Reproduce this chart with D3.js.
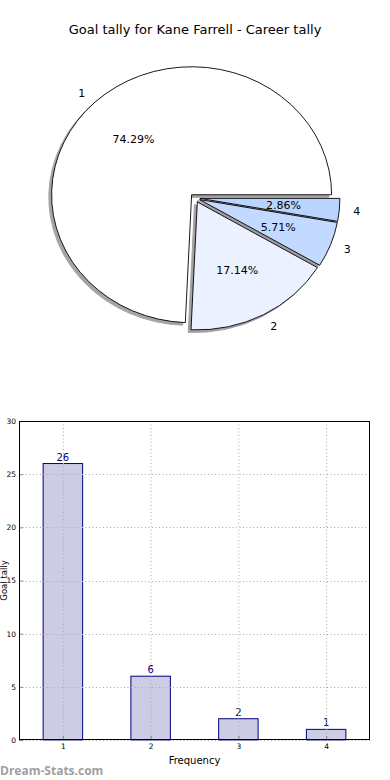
<!DOCTYPE html>
<html><head><meta charset="utf-8">
<script src="https://cdn.jsdelivr.net/npm/d3@7"></script>
<style>body{margin:0;background:#fff;}svg{display:block;font-family:"DejaVu Sans",sans-serif;}</style>
</head><body>
<svg id="c" width="390" height="780"></svg>
<script>
const title = "Goal tally for Kane Farrell - Career tally";
const categories = ["1","2","3","4"];
const values = [26, 6, 2, 1];
const pctLabels = ["74.29%","17.14%","5.71%","2.86%"];
const sliceColors = ["#ffffff","#ebf1fe","#c4d9ff","#b9d4ff"];
const yTicks = [0,5,10,15,20,25,30];
const xLabel = "Frequency";
const yLabel = "Goal tally";
const watermark = "Dream-Stats.com";

const svg = d3.select("#c");

svg.append("text").attr("x",195).attr("y",34).attr("text-anchor","middle")
  .attr("font-size",13).attr("fill","#000").text(title);

// ---------- pie (matplotlib-style, elliptical, exploded, shadow) ----------
const cx = 195, cy = 198, rx = 140, ry = 128, explode = 0.035;
const pie = d3.pie().sort(null).value(d=>d).startAngle(Math.PI/2).endAngle(Math.PI/2 - 2*Math.PI);
const arcs = pie(values);
const arc = d3.arc().innerRadius(0).outerRadius(1);
const pg = svg.append("g").attr("transform",`translate(${cx},${cy}) scale(${rx},${ry})`);
function mid(a){
  const m=(a.startAngle+a.endAngle)/2; return [Math.sin(m), -Math.cos(m)];
}
arcs.forEach((a,i)=>{
  const [dx,dy]=mid(a);
  const c = d3.color(sliceColors[i]); const sc = d3.rgb(c.r*0.3,c.g*0.3,c.b*0.3);
  pg.append("path").attr("d",arc(a))
    .attr("transform",`translate(${dx*explode-0.02},${dy*explode+0.02})`)
    .attr("fill",sc).attr("stroke",sc).attr("stroke-width",1).attr("vector-effect","non-scaling-stroke")
    .attr("opacity",0.5);
});
arcs.forEach((a,i)=>{
  const [dx,dy]=mid(a);
  pg.append("path").attr("d",arc(a))
    .attr("transform",`translate(${dx*explode},${dy*explode})`)
    .attr("fill",sliceColors[i]).attr("stroke","#000").attr("stroke-width",0.9)
    .attr("vector-effect","non-scaling-stroke");
});
arcs.forEach((a,i)=>{
  const [dx,dy]=mid(a);
  const lx = cx + rx*(explode+1.1)*dx, ly = cy + ry*(explode+1.1)*dy;
  svg.append("text").attr("x",lx).attr("y",ly).attr("dy","0.36em")
    .attr("text-anchor", dx>0?"start":"end").attr("font-size",11).text(categories[i]);
  const px = cx + rx*(explode+0.6)*dx, py = cy + ry*(explode+0.6)*dy;
  svg.append("text").attr("x",px).attr("y",py).attr("dy","0.36em")
    .attr("text-anchor","middle").attr("font-size",11).text(pctLabels[i]);
});

// ---------- bar chart ----------
const L=19, R=370, T=421, B=740;
const x = d3.scaleLinear().domain([0.5,4.5]).range([L,R]);
const y = d3.scaleLinear().domain([0,30]).range([B,T]);
const bw = 0.45;
const bg = svg.append("g");
categories.forEach((c,i)=>{
  const xc = +c;
  bg.append("rect").attr("x",x(xc-bw/2)).attr("y",y(values[i]))
    .attr("width",x(xc+bw/2)-x(xc-bw/2)).attr("height",y(0)-y(values[i]))
    .attr("fill","#cccce5").attr("stroke","#000080").attr("stroke-width",1);
  bg.append("text").attr("x",x(xc)).attr("y",y(values[i])-3).attr("text-anchor","middle")
    .attr("font-size",10).attr("fill","#000080").text(values[i]);
});
const grid = svg.append("g").attr("stroke","#aaaaaa").attr("stroke-width",1).attr("stroke-dasharray","1,2.5");
categories.forEach(c=>{ grid.append("line").attr("x1",x(+c)+0.5).attr("x2",x(+c)+0.5).attr("y1",T).attr("y2",B); });
yTicks.forEach(t=>{ grid.append("line").attr("x1",L).attr("x2",R).attr("y1",Math.round(y(t))+0.5).attr("y2",Math.round(y(t))+0.5); });
const yAxis = d3.axisLeft(y).tickValues(yTicks).tickSize(-4).tickPadding(3);
const gy = svg.append("g").attr("transform",`translate(${L},0)`).call(yAxis);
const xAxis = d3.axisBottom(x).tickValues(categories.map(Number)).tickFormat(d=>d).tickSize(-4).tickPadding(4);
const gx = svg.append("g").attr("transform",`translate(0,${B})`).call(xAxis);
[gx,gy].forEach(g=>{
  g.select(".domain").remove();
  g.selectAll(".tick line").attr("stroke","#888");
  g.selectAll(".tick text").attr("font-size",7.5).attr("font-family","DejaVu Sans").attr("fill","#000");
});
svg.append("rect").attr("x",L+0.5).attr("y",T+0.5).attr("width",R-L-1).attr("height",B-T-1)
  .attr("fill","none").attr("stroke","#000").attr("stroke-width",1);
svg.append("text").attr("x",(L+R)/2).attr("y",764).attr("text-anchor","middle").attr("font-size",10).text(xLabel);
svg.append("text").attr("transform",`translate(6.5,${(T+B)/2}) rotate(-90)`).attr("text-anchor","middle")
  .attr("font-size",8.5).text(yLabel);
svg.append("text").attr("x",0).attr("y",775).attr("font-size",12).attr("font-weight","bold")
  .attr("fill","#a0a0a0").attr("font-family","Open Sans, sans-serif").text(watermark);
</script>
</body></html>
